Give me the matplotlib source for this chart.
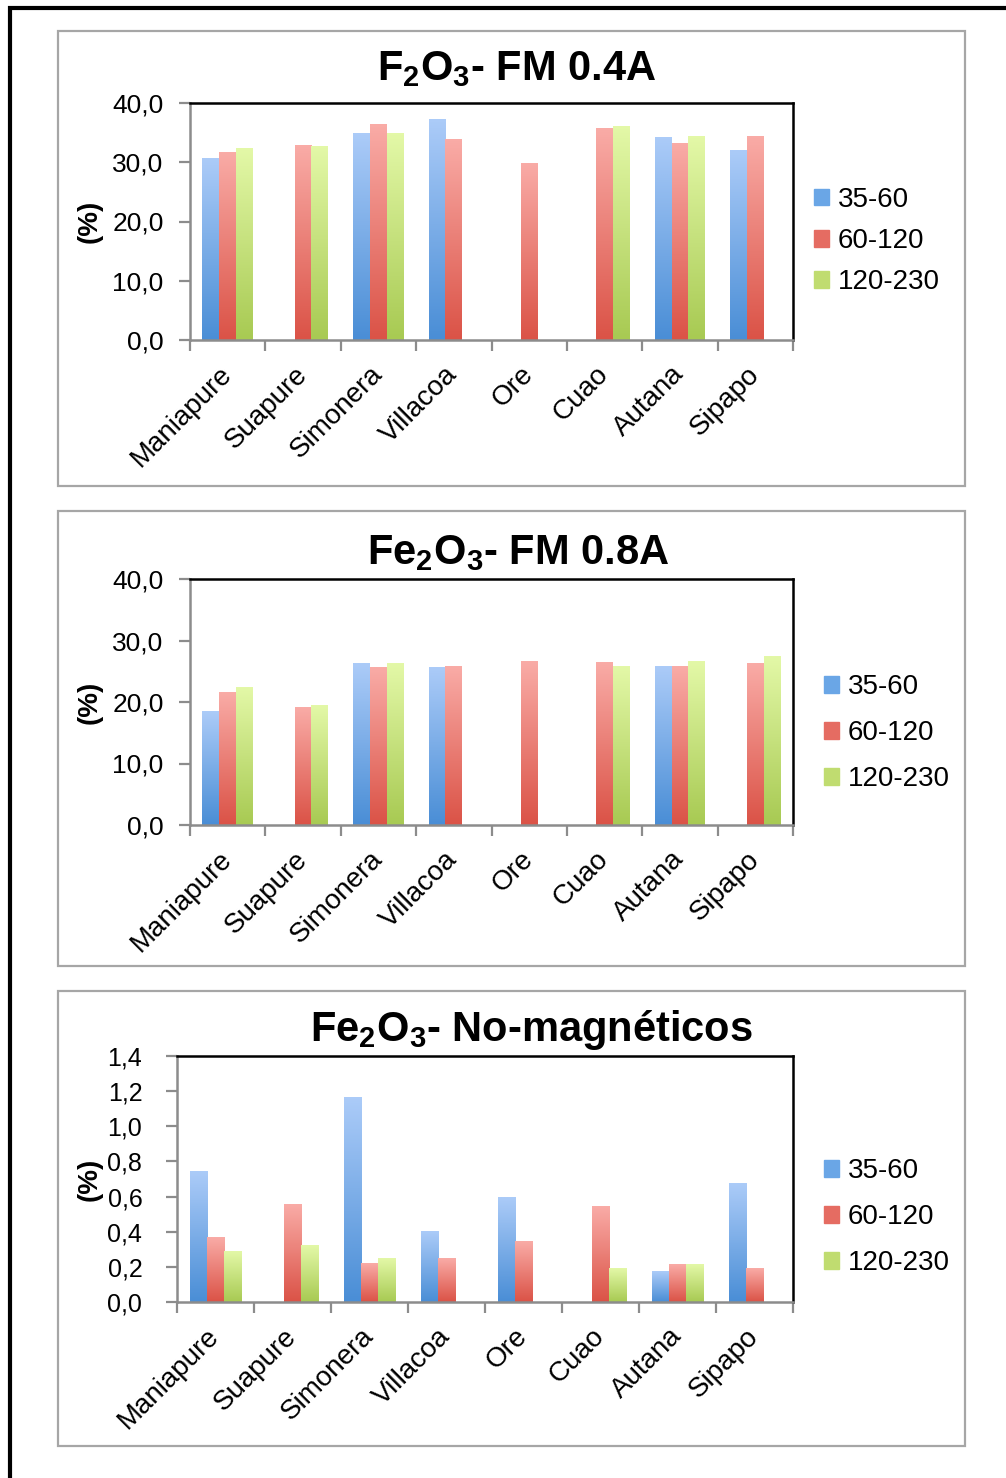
import numpy as np
import matplotlib
matplotlib.use("Agg")
from matplotlib import pyplot as plt
from matplotlib.patches import Rectangle, Patch
from matplotlib.ticker import FuncFormatter, FixedLocator
from matplotlib.colors import LinearSegmentedColormap

plt.rcParams['font.family'] = ['Liberation Sans', 'DejaVu Sans']
plt.rcParams['mathtext.fontset'] = 'custom'
plt.rcParams['mathtext.rm'] = 'Liberation Sans'
plt.rcParams['mathtext.bf'] = 'Liberation Sans:bold'

sites = ['Maniapure', 'Suapure', 'Simonera', 'Villacoa', 'Ore', 'Cuao', 'Autana', 'Sipapo']
fractions = ['35-60', '60-120', '120-230']
nan = np.nan

# FM 0.4A
fm04_35 = [30.6, nan, 34.8, 37.2, nan, nan, 34.2, 32.0]
fm04_60 = [31.7, 32.9, 36.3, 33.9, 29.8, 35.7, 33.1, 34.4]
fm04_120 = [32.4, 32.6, 34.8, nan, nan, 36.1, 34.4, nan]

# FM 0.8A
fm08_35 = [18.4, nan, 26.2, 25.6, nan, nan, 25.8, nan]
fm08_60 = [21.5, 19.1, 25.6, 25.8, 26.6, 26.4, 25.8, 26.2]
fm08_120 = [22.4, 19.5, 26.2, nan, nan, 25.8, 26.6, 27.4]

# no magneticos
nm_35 = [0.745, nan, 1.162, 0.403, 0.593, nan, 0.175, 0.672]
nm_60 = [0.365, 0.555, 0.218, 0.249, 0.344, 0.541, 0.211, 0.19]
nm_120 = [0.285, 0.32, 0.249, nan, nan, 0.19, 0.211, nan]

# top / bottom colours of the bar gradients
grad = [('#abcbf8', '#4a8ed6'), ('#f9aba6', '#db5347'), ('#e3f8a7', '#a8ca53')]
solid = ['#6aa6e6', '#e56c62', '#c0dc70']

W, H = 1006, 1478
fig = plt.figure(figsize=(W / 100, H / 100), dpi=100)


def fx(px):
    return px / W


def fy(py):
    return 1 - py / H


# outer frame
fig.add_artist(Rectangle((fx(10), -0.05), 1.2, fy(8) + 0.05, transform=fig.transFigure,
                         fill=False, ec='black', lw=3))

panels = [
    dict(series=[fm04_35, fm04_60, fm04_120], box=(31, 486), ax=(190, 793, 103, 340),
         ylim=40, step=10, ypad=11, ysize=19, title=r'$\mathbf{F_2O_3}$- FM 0.4A',
         tx=517, ty=80, leg=(814, 241, 0.55)),
    dict(series=[fm08_35, fm08_60, fm08_120], box=(511, 966), ax=(190, 793, 579, 825),
         ylim=40, step=10, ypad=11, ysize=19, title=r'$\mathbf{Fe_2O_3}$- FM 0.8A',
         tx=518, ty=564, leg=(824, 733, 0.72)),
    dict(series=[nm_35, nm_60, nm_120], box=(991, 1446), ax=(177, 793, 1056, 1302),
         ylim=1.4, step=0.2, ypad=17, ysize=18, title=r'$\mathbf{Fe_2O_3}$- No-magnéticos',
         tx=531, ty=1041, leg=(824, 1217, 0.72)),
]

bw = 0.223
x = np.arange(len(sites))

for p in panels:
    y0, y1 = p['box']
    fig.add_artist(Rectangle((fx(58), fy(y1)), fx(965) - fx(58), fy(y0) - fy(y1),
                             transform=fig.transFigure, fill=False, ec='#a6a6a6', lw=1.6))
    l, r, t, b = p['ax']
    ax = fig.add_axes([fx(l), fy(b), fx(r) - fx(l), fy(t) - fy(b)])

    for k, vals in enumerate(p['series']):
        v = np.array(vals, dtype=float)
        bars = ax.bar(x + (k - 1) * bw, np.nan_to_num(v), bw, color=solid[k], lw=0, zorder=1)
        cmap = LinearSegmentedColormap.from_list('g%d' % k, [grad[k][1], grad[k][0]])
        for bar, val in zip(bars, v):
            if np.isnan(val):
                bar.set_visible(False)
                continue
            bx, bh = bar.get_x(), bar.get_height()
            ax.imshow(np.linspace(0, 1, 64).reshape(-1, 1), cmap=cmap, origin='lower',
                      extent=(bx, bx + bw, 0, bh), aspect='auto', zorder=2,
                      interpolation='bilinear')

    ax.set_xlim(-0.5, len(sites) - 0.5)
    ax.set_ylim(0, p['ylim'])
    ax.set_yticks(np.arange(0, p['ylim'] + p['step'] / 2, p['step']))
    ax.yaxis.set_major_formatter(FuncFormatter(lambda v, pos: ('%.1f' % v).replace('.', ',')))
    ax.set_xticks(x)
    ax.set_xticklabels(sites, rotation=45, ha='right', va='center', rotation_mode='anchor',
                       fontsize=20)
    ax.xaxis.set_minor_locator(FixedLocator(np.arange(-0.5, len(sites), 1.0)))
    ax.tick_params(axis='x', which='major', length=0, pad=22)
    ax.tick_params(axis='x', which='minor', length=8, width=1.6, color='#8c8c8c')
    ax.tick_params(axis='y', length=8, width=1.6, color='#8c8c8c', labelsize=p['ysize'],
                   pad=p['ypad'])
    for s in ('left', 'bottom'):
        ax.spines[s].set_color('#8c8c8c')
        ax.spines[s].set_linewidth(1.8)
    for s in ('top', 'right'):
        ax.spines[s].set_color('black')
        ax.spines[s].set_linewidth(1.8)

    fig.text(fx(p['tx']), fy(p['ty']), p['title'], ha='center', va='baseline',
             fontsize=30, fontweight='bold')
    fig.text(fx(90), fy((t + b) / 2), '(%)', rotation=90, ha='center', va='center',
             fontsize=20, fontweight='bold')

    lx, ly, sp = p['leg']
    handles = [Patch(color=solid[k]) for k in range(3)]
    ax.legend(handles, fractions, loc='center left', bbox_to_anchor=(fx(lx), fy(ly)),
              bbox_transform=fig.transFigure, frameon=False, fontsize=20,
              handlelength=0.55, handleheight=0.55, handletextpad=0.3, labelspacing=sp,
              borderpad=0, borderaxespad=0)

fig.savefig('out.png', dpi=100)
